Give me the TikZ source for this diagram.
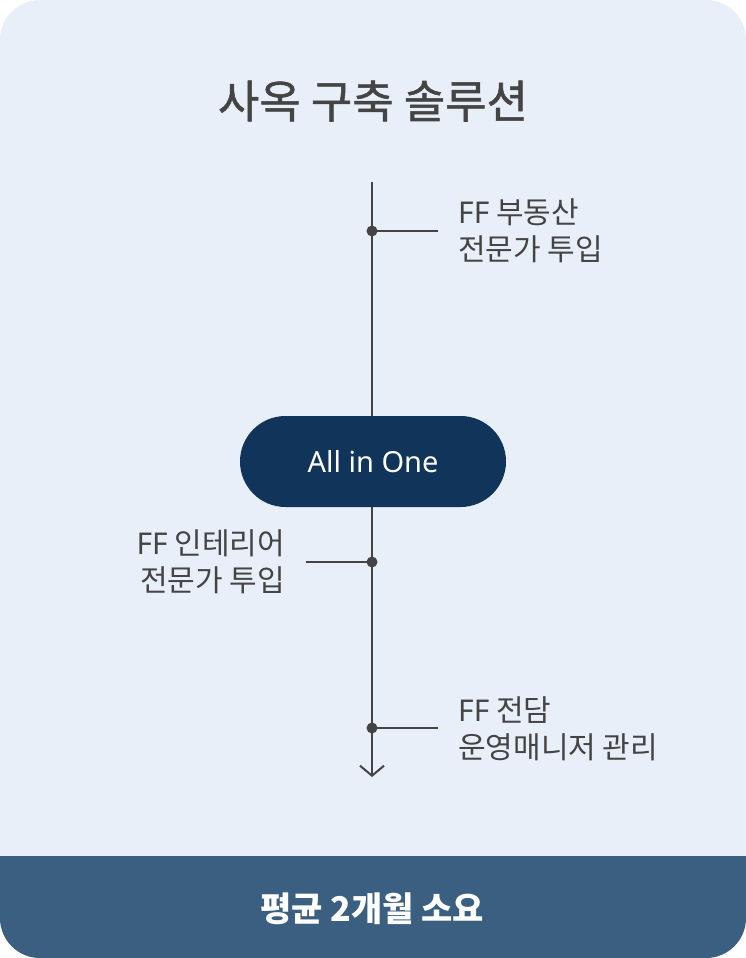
\documentclass[tikz,border=0pt]{standalone}
\usepackage{fontspec}
\setmainfont{Noto Sans CJK KR}
\newfontfamily\lat{Noto Sans}
\newfontfamily\titlef[FakeBold=1.2]{Noto Sans CJK KR}
\usetikzlibrary{arrows.meta}
\definecolor{bgc}{HTML}{E8EFF8}
\definecolor{bandc}{HTML}{3B5F80}
\definecolor{pillc}{HTML}{10345A}
\definecolor{linec}{HTML}{444444}
\definecolor{txtc}{HTML}{444444}
\tikzset{
  pill/.style={fill=pillc, text=white, rounded corners=45.5pt, minimum width=266pt, minimum height=91pt, inner sep=0pt, font=\lat\fontsize{29}{34}\selectfont},
  dotnode/.style={circle, fill=linec, minimum size=11pt, inner sep=0pt},
  axis/.style={draw=linec, line width=2pt},
  tick/.style={draw=linec, line width=2pt},
  lbl/.style={text=txtc, inner sep=0pt, font=\fontsize{30}{37}\selectfont},
  titlestyle/.style={text=txtc, inner sep=0pt, font=\titlef\fontsize{45}{52}\selectfont},
  bandtext/.style={text=white, inner sep=0pt, font=\bfseries\fontsize{34}{40}\selectfont}
}
\begin{document}
\begin{tikzpicture}[x=1pt,y=-1pt]
\useasboundingbox (0,0) rectangle (746,958);
\fill[white] (0,0) rectangle (746,958);
\begin{scope}
\clip[rounded corners=40pt] (0,0) rectangle (746,958);
\fill[bgc] (0,0) rectangle (746,958);
\fill[bandc] (0,856) rectangle (746,958);
\end{scope}
\node[titlestyle] (title) at (373,101) {사옥 구축 솔루션};
\coordinate (top) at (372,182);
\coordinate (bot) at (372,777);
\node[pill] (pill) at (373,461.5) {All in One};
\draw[axis] (top) -- (pill.north -| top);
\draw[axis, -{Straight Barb[length=10pt,width=24pt,line width=2pt]}] (pill.south -| top) -- (bot);
\node[dotnode] (d1) at (372,231) {};
\node[dotnode] (d2) at (372,562) {};
\node[dotnode] (d3) at (372,728) {};
\coordinate (t1) at (438,231);
\coordinate (t2) at (306,562);
\coordinate (t3) at (438,728);
\draw[tick] (d1.center) -- (t1);
\draw[tick] (d2.center) -- (t2);
\draw[tick] (d3.center) -- (t3);
\node[lbl, anchor=west, align=left] (l1) at (458,231) {{\lat FF} 부동산\\전문가 투입};
\node[lbl, anchor=east, align=right] (l2) at (285,562) {{\lat FF} 인테리어\\전문가 투입};
\node[lbl, anchor=west, align=left] (l3) at (458,729) {{\lat FF} 전담\\운영매니저 관리};
\node[bandtext] (band) at (372,909) {평균 2개월 소요};
\end{tikzpicture}
\end{document}
